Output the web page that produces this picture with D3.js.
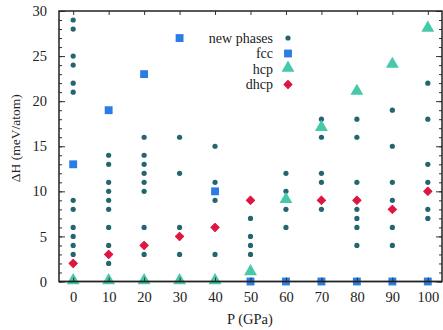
<!DOCTYPE html>
<html>
<head>
<meta charset="utf-8">
<script src="https://cdn.jsdelivr.net/npm/d3@7"></script>
<style>
  body { margin: 0; background: #fff; }
  svg text { font-family: "Liberation Serif", "DejaVu Serif", serif; fill: #222; }
</style>
</head>
<body>
<div id="chart"></div>
<script>
// pressures (GPa) and formation enthalpies (meV/atom)
const pressures = [0, 10, 20, 30, 40, 50, 60, 70, 80, 90, 100];
const newPhases = [
  [29, 28, 25, 24, 22, 21, 9, 8, 6, 5, 4, 3],
  [14, 13, 11, 10, 9, 8, 6, 4, 2],
  [16, 14, 13, 12, 11, 10, 6, 3],
  [16, 12, 6, 3],
  [15, 11, 9, 3],
  [7, 5, 4, 3],
  [12, 10, 8, 6],
  [18, 16, 12, 11, 8],
  [18, 16, 11, 8, 7, 6, 4],
  [19, 15, 11, 9, 6, 4],
  [22, 18, 13, 11, 8, 7]
];
const fcc = [13, 19, 23, 27, 10, 0, 0, 0, 0, 0, 0];
const hcp = [0, 0, 0, 0, 0, 1, 9, 17, 21, 24, 28];
const dhcp = [2, 3, 4, 5, 6, 9, null, 9, 9, 8, 10];
const xTicks = [0, 10, 20, 30, 40, 50, 60, 70, 80, 90, 100];
const yTicks = [0, 5, 10, 15, 20, 25, 30];

const width = 443, height = 330;
const margin = {top: 11, right: 1, bottom: 48.5, left: 59};

const colors = {newp: "#24666f", fcc: "#2b7de6", hcp: "#45c9a9", dhcp: "#de1640"};

const svg = d3.select("#chart").append("svg")
  .attr("width", width)
  .attr("height", height);

const x = d3.scaleLinear().domain([-4, 104]).range([margin.left, width - margin.right]);
const y = d3.scaleLinear().domain([0, 30]).range([height - margin.bottom, margin.top]);

const sq = d3.symbol().type(d3.symbolSquare).size(62);
const tri = d3.symbol().type(d3.symbolTriangle).size(72);
const dia = d3.symbol().type(d3.symbolSquare).size(34); // drawn rotated 45deg

// points
const pts = [];
pressures.forEach((p, i) => newPhases[i].forEach(v => pts.push({p: p, v: v})));

svg.append("g").selectAll("circle")
  .data(pts)
  .enter()
  .append("circle")
    .attr("cx", d => x(d.p))
    .attr("cy", d => y(d.v))
    .attr("r", 2.6)
    .style("fill", colors.newp);

svg.append("g").selectAll("path")
  .data(pressures.map((p, i) => ({p: p, v: fcc[i]})))
  .enter()
  .append("path")
    .attr("d", sq)
    .attr("transform", d => `translate(${x(d.p)},${y(d.v)})`)
    .style("fill", colors.fcc);

svg.append("g").selectAll("path")
  .data(pressures.map((p, i) => ({p: p, v: hcp[i]})))
  .enter()
  .append("path")
    .attr("d", tri)
    .attr("transform", d => `translate(${x(d.p)},${y(d.v) - 1})`)
    .style("fill", colors.hcp);

svg.append("g").selectAll("path")
  .data(pressures.map((p, i) => ({p: p, v: dhcp[i]})).filter(d => d.v != null))
  .enter()
  .append("path")
    .attr("d", dia)
    .attr("transform", d => `translate(${x(d.p)},${y(d.v)}) rotate(45)`)
    .style("fill", colors.dhcp)
    .style("stroke", colors.dhcp)
    .style("stroke-width", 1)
    .style("stroke-linejoin", "round");

// zero line
svg.append("line")
  .attr("x1", x.range()[0]).attr("x2", x.range()[1])
  .attr("y1", y(0)).attr("y2", y(0))
  .style("stroke", "#555")
  .style("stroke-width", 1.6);

// axes, ticks inward
const gLeft = svg.append("g")
  .attr("transform", `translate(${margin.left},0)`)
  .call(d3.axisLeft(y).tickValues(yTicks).tickSizeInner(-6).tickSizeOuter(0).tickPadding(12));
const gLeftMinor = svg.append("g")
  .attr("transform", `translate(${margin.left},0)`)
  .call(d3.axisLeft(y).ticks(30).tickSizeInner(-3).tickSizeOuter(0).tickFormat(""));
const gRight = svg.append("g")
  .attr("transform", `translate(${width - margin.right},0)`)
  .call(d3.axisRight(y).tickValues(yTicks).tickSizeInner(-6).tickSizeOuter(0).tickFormat(""));
const gRightMinor = svg.append("g")
  .attr("transform", `translate(${width - margin.right},0)`)
  .call(d3.axisRight(y).ticks(30).tickSizeInner(-3).tickSizeOuter(0).tickFormat(""));
const gBottom = svg.append("g")
  .attr("transform", `translate(0,${height - margin.bottom})`)
  .call(d3.axisBottom(x).tickValues(xTicks).tickSizeInner(-4).tickSizeOuter(0).tickPadding(10));
const gTop = svg.append("g")
  .attr("transform", `translate(0,${margin.top})`)
  .call(d3.axisTop(x).tickValues(xTicks).tickSizeInner(-4).tickSizeOuter(0).tickFormat(""));

[gLeft, gLeftMinor, gRight, gRightMinor, gBottom, gTop].forEach(g => {
  g.select(".domain").remove();
  g.selectAll(".tick line").style("stroke", "#333").style("stroke-width", 1);
  g.selectAll("text")
    .style("font-family", '"Liberation Serif", serif')
    .style("font-size", "14.5px")
    .style("fill", "#222");
});

// frame
svg.append("rect")
  .attr("x", margin.left).attr("y", margin.top)
  .attr("width", width - margin.left - margin.right)
  .attr("height", height - margin.top - margin.bottom)
  .style("fill", "none")
  .style("stroke", "#222")
  .style("stroke-width", 1.5);

// axis titles
svg.append("text")
  .attr("transform", `translate(20,${(margin.top + height - margin.bottom) / 2 - 8}) rotate(-90)`)
  .attr("text-anchor", "middle")
  .style("font-size", "13.5px")
  .text("ΔH (meV/atom)");

svg.append("text")
  .attr("x", 250)
  .attr("y", 324)
  .attr("text-anchor", "middle")
  .style("font-size", "14.5px")
  .text("P (GPa)");

// legend
const legendNames = ["new phases", "fcc", "hcp", "dhcp"];
const legend = svg.append("g");
legendNames.forEach((name, i) => {
  const ly = 38 + i * 15.5;
  legend.append("text")
    .attr("x", 273)
    .attr("y", ly + 4.5)
    .attr("text-anchor", "end")
    .style("font-size", "14px")
    .text(name);
  if (i === 0) {
    legend.append("circle").attr("cx", 288).attr("cy", ly).attr("r", 2.6).style("fill", colors.newp);
  } else if (i === 1) {
    legend.append("path").attr("d", sq).attr("transform", `translate(288,${ly})`).style("fill", colors.fcc);
  } else if (i === 2) {
    legend.append("path").attr("d", tri).attr("transform", `translate(288,${ly - 1})`).style("fill", colors.hcp);
  } else {
    legend.append("path").attr("d", dia).attr("transform", `translate(288,${ly}) rotate(45)`)
      .style("fill", colors.dhcp).style("stroke", colors.dhcp).style("stroke-width", 1)
      .style("stroke-linejoin", "round");
  }
});
</script>
</body>
</html>
